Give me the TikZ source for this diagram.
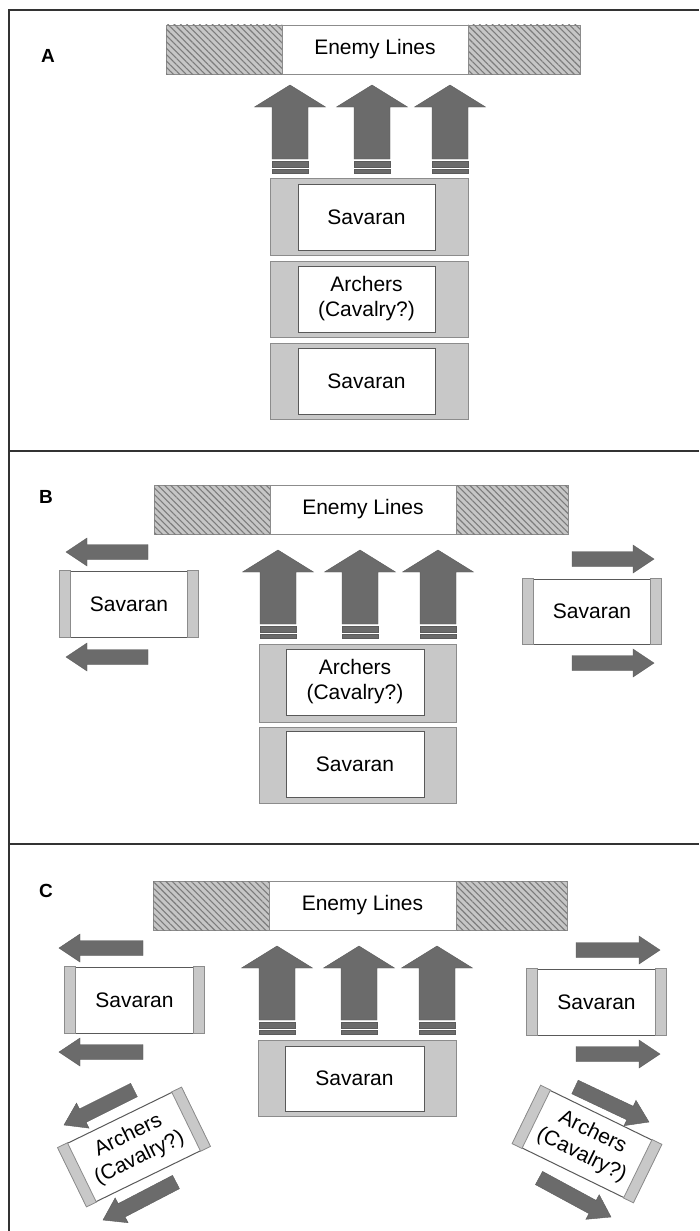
\documentclass[tikz,border=0pt]{standalone}
\usepackage{fontspec}
\setmainfont{Liberation Sans}
\usetikzlibrary{calc,patterns.meta}
\definecolor{arrowgray}{HTML}{6B6B6B}
\definecolor{boxgray}{HTML}{C8C8C8}
\definecolor{edgegray}{HTML}{8C8C8C}
\definecolor{hatchbg}{HTML}{C6C6C6}
\definecolor{hatchfg}{HTML}{7C7C7C}
\newcommand\flatarr[2]{%
  \path ($(#2)!21pt!(#1)$) coordinate (hb);
  \filldraw[arrowfill] ($(#1)!7.5pt!90:(#2)$) -- ($(hb)!7.5pt!90:(#2)$) -- ($(hb)!14pt!90:(#2)$)
    -- (#2) -- ($(hb)!14pt!-90:(#2)$) -- ($(hb)!7.5pt!-90:(#2)$) -- ($(#1)!7.5pt!-90:(#2)$) -- cycle;}
\newcommand\sidestrips[1]{%
  \filldraw[strip] (#1.north west) -- ($(#1.north west)!11pt!(#1.north east)$) -- ($(#1.south west)!11pt!(#1.south east)$) -- (#1.south west) -- cycle;
  \filldraw[strip] (#1.north east) -- ($(#1.north east)!11pt!(#1.north west)$) -- ($(#1.south east)!11pt!(#1.south west)$) -- (#1.south east) -- cycle;}
\begin{document}
\begin{tikzpicture}[x=1pt,y=-1pt,
  arrowfill/.style={fill=arrowgray, draw=arrowgray!85!black, line width=0.4pt},
  outerbox/.style={fill=boxgray, draw=edgegray, line width=0.8pt},
  whitebox/.style={fill=white, draw=black!65, line width=1pt, inner sep=0pt, align=center, font=\fontsize{21}{25}\selectfont},
  enemybox/.style={fill=white, draw=edgegray, line width=0.8pt, inner sep=0pt, font=\fontsize{21}{25}\selectfont},
  hatch/.style={fill=hatchbg, draw=edgegray, line width=0.8pt, postaction={pattern={Lines[angle=-45,distance=4.5pt,line width=1.1pt]}, pattern color=hatchfg}},
  strip/.style={fill=boxgray, draw=edgegray, line width=0.8pt},
  panellabel/.style={font=\fontsize{19}{19}\bfseries\selectfont, inner sep=0pt},
  frameline/.style={draw=black!80, line width=1.2pt},
  uparr/.pic={
    \filldraw[arrowfill] (-18,74) -- (-18,22) -- (-35.5,22) -- (0,0) -- (35.5,22) -- (18,22) -- (18,74) -- cycle;
    \filldraw[arrowfill] (-18,76.5) rectangle (18,82);
    \filldraw[arrowfill] (-18,84.5) rectangle (18,88);
  }]
\useasboundingbox (0,0) rectangle (699,1231);
\fill[white] (0,0) rectangle (699,1231);
% frame
\draw[frameline] (9,1231) -- (9,10) -- (699,10);
\draw[frameline] (9,451) -- (699,451);
\draw[frameline] (9,844) -- (699,844);
% ---------------- Panel A
\node[panellabel] (la) at (48,56) {A};
\draw[hatch] (166,25) rectangle (282,74);
\draw[hatch] (468,25) rectangle (580,74);
\node[enemybox, minimum width=186pt, minimum height=49pt] (ea) at (375,49.5) {Enemy Lines};
\pic (ua1) at (290,85) {uparr};
\pic (ua2) at (372,85) {uparr};
\pic (ua3) at (450,85) {uparr};
\draw[outerbox] (270,178) rectangle (468,255);
\node[whitebox, minimum width=137pt, minimum height=66pt] (a1) at (366.5,217) {Savaran};
\draw[outerbox] (270,261) rectangle (468,337);
\node[whitebox, minimum width=137pt, minimum height=66pt] (a2) at (366.5,299) {Archers\\(Cavalry?)};
\draw[outerbox] (270,343) rectangle (468,419);
\node[whitebox, minimum width=137pt, minimum height=66pt] (a3) at (366.5,381) {Savaran};
% ---------------- Panel B
\node[panellabel] (lb) at (46,497) {B};
\draw[hatch] (154,485) rectangle (270,534);
\draw[hatch] (456,485) rectangle (568,534);
\node[enemybox, minimum width=186pt, minimum height=49pt] (eb) at (363,509.5) {Enemy Lines};
\pic (ub1) at (278,550) {uparr};
\pic (ub2) at (360,550) {uparr};
\pic (ub3) at (438,550) {uparr};
\draw[outerbox] (259,644) rectangle (456,722);
\node[whitebox, minimum width=138pt, minimum height=66pt] (b2) at (355,682) {Archers\\(Cavalry?)};
\draw[outerbox] (259,727) rectangle (456,803);
\node[whitebox, minimum width=138pt, minimum height=66pt] (b3) at (355,764) {Savaran};
\node[whitebox, minimum width=138pt, minimum height=66pt] (bl) at (129,604) {Savaran};
\sidestrips{bl}
\node[whitebox, minimum width=138pt, minimum height=65pt] (br) at (592,611.5) {Savaran};
\sidestrips{br}
\coordinate (b1t) at (148,552); \coordinate (b1h) at (66,552);
\coordinate (b2t) at (148,657); \coordinate (b2h) at (66,657);
\coordinate (b3t) at (572,559); \coordinate (b3h) at (654,559);
\coordinate (b4t) at (572,663); \coordinate (b4h) at (654,663);
\flatarr{b1t}{b1h}
\flatarr{b2t}{b2h}
\flatarr{b3t}{b3h}
\flatarr{b4t}{b4h}
% ---------------- Panel C
\node[panellabel] (lc) at (46,891) {C};
\draw[hatch] (153,881) rectangle (269,930);
\draw[hatch] (456,881) rectangle (567,930);
\node[enemybox, minimum width=187pt, minimum height=49pt] (ec) at (362.5,905.5) {Enemy Lines};
\pic (uc1) at (277,946) {uparr};
\pic (uc2) at (359,946) {uparr};
\pic (uc3) at (437,946) {uparr};
\draw[outerbox] (258,1040) rectangle (456,1116);
\node[whitebox, minimum width=139pt, minimum height=65pt] (c0) at (354.5,1078.5) {Savaran};
\node[whitebox, minimum width=139pt, minimum height=66pt] (cl) at (134.5,1000) {Savaran};
\sidestrips{cl}
\node[whitebox, minimum width=139pt, minimum height=66pt] (cr) at (596.5,1002) {Savaran};
\sidestrips{cr}
\node[whitebox, rotate=26, minimum width=137pt, minimum height=65pt] (cla) at (134,1147) {Archers\\(Cavalry?)};
\sidestrips{cla}
\node[whitebox, rotate=-26, minimum width=134pt, minimum height=64pt] (cra) at (587,1144) {Archers\\(Cavalry?)};
\sidestrips{cra}
\coordinate (c1t) at (143,948); \coordinate (c1h) at (59,948);
\coordinate (c2t) at (143,1052); \coordinate (c2h) at (59,1052);
\coordinate (c3t) at (576,950); \coordinate (c3h) at (660,950);
\coordinate (c4t) at (576,1054); \coordinate (c4h) at (660,1054);
\coordinate (c5t) at (134,1090); \coordinate (c5h) at (64,1125);
\coordinate (c6t) at (176,1182); \coordinate (c6h) at (103,1220);
\coordinate (c7t) at (575,1087); \coordinate (c7h) at (649,1122);
\coordinate (c8t) at (539,1178); \coordinate (c8h) at (611,1217);
\flatarr{c1t}{c1h}
\flatarr{c2t}{c2h}
\flatarr{c3t}{c3h}
\flatarr{c4t}{c4h}
\flatarr{c5t}{c5h}
\flatarr{c6t}{c6h}
\flatarr{c7t}{c7h}
\flatarr{c8t}{c8h}
\end{tikzpicture}
\end{document}
